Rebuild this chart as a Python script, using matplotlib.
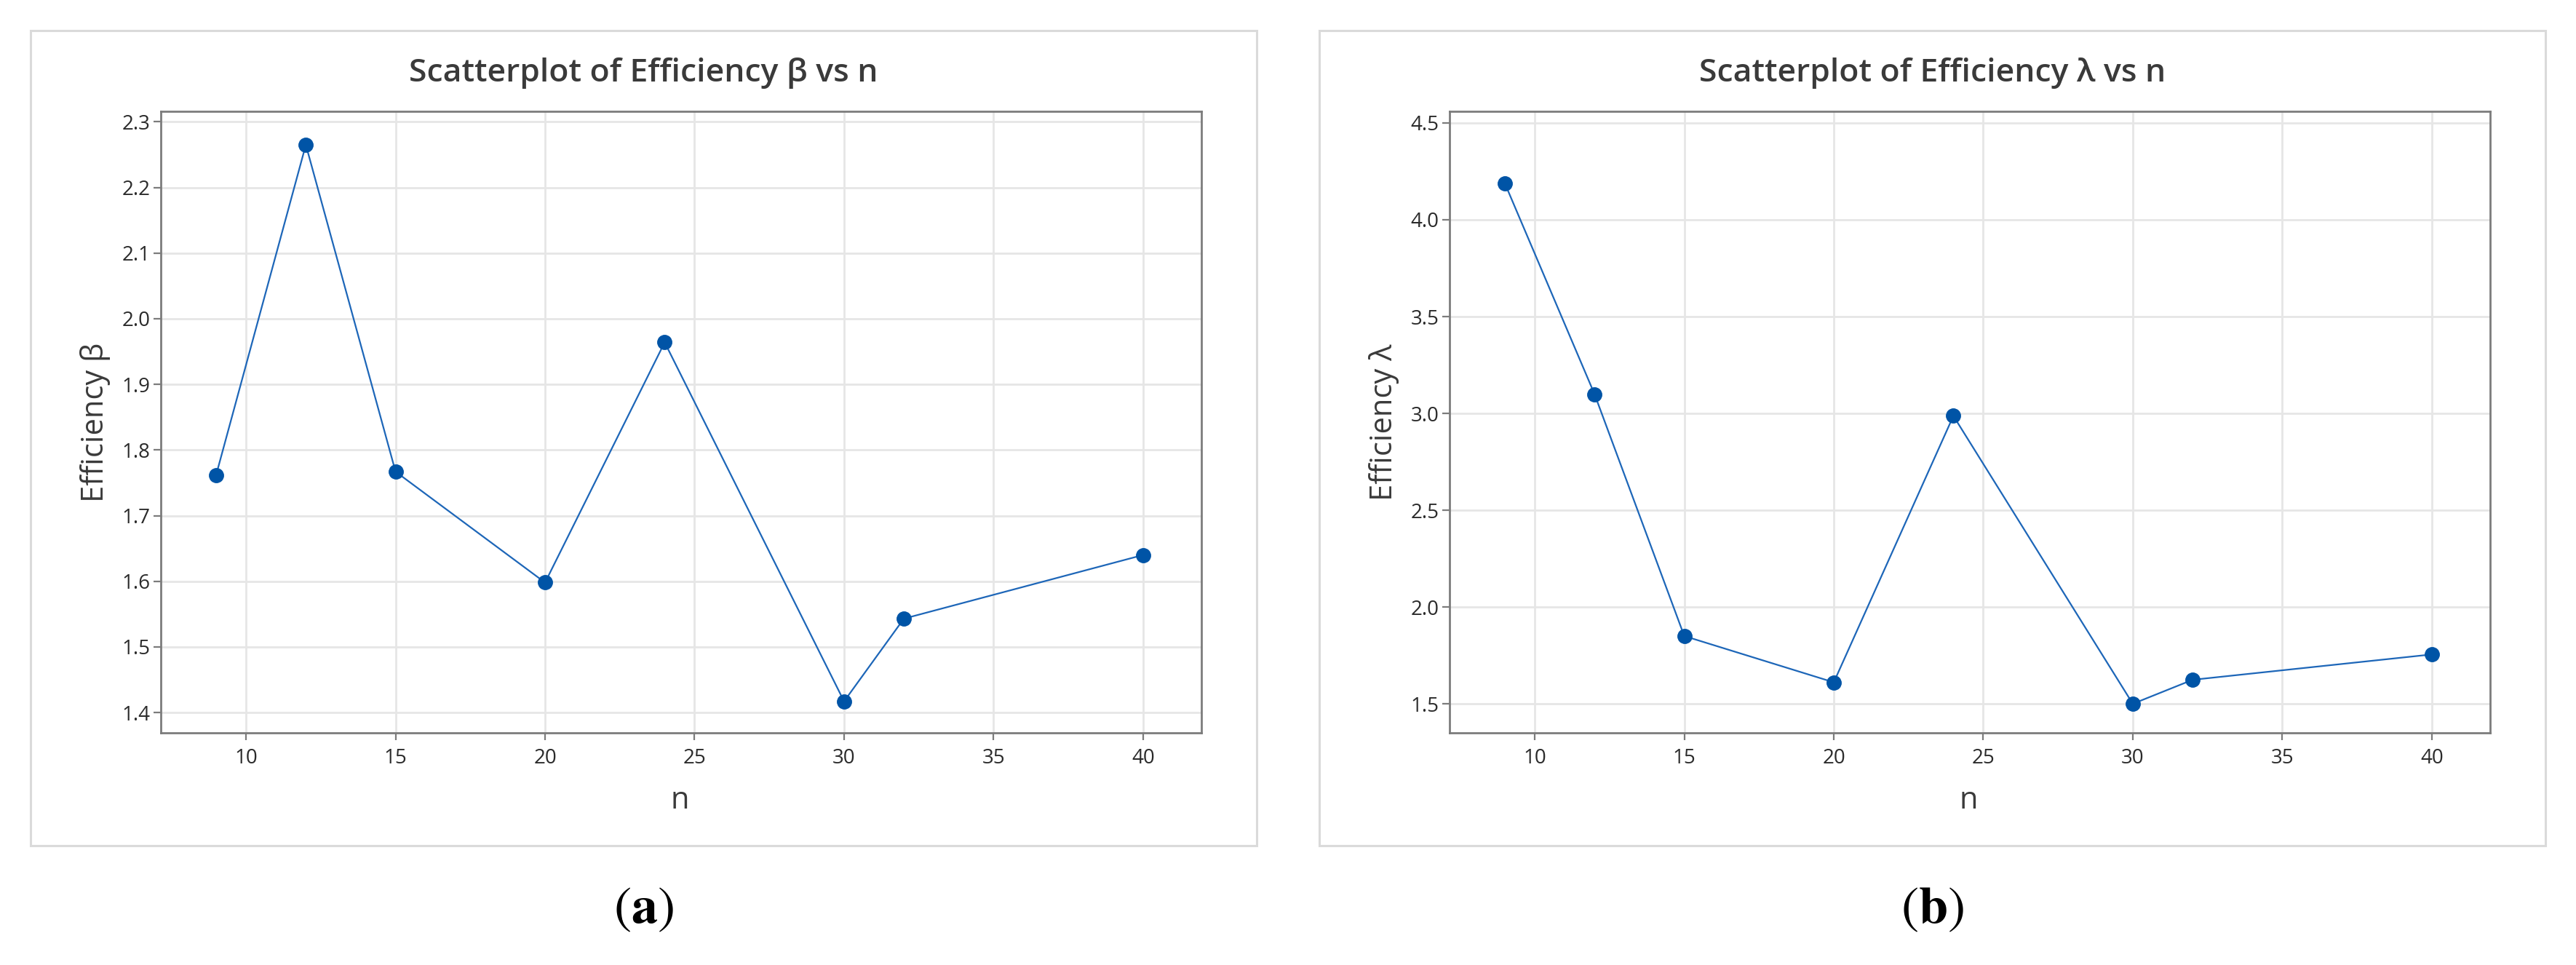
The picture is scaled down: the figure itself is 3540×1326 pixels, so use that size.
import numpy as np
import matplotlib
matplotlib.use("Agg")
import matplotlib.pyplot as plt
from matplotlib.patches import Rectangle


n_values = [9, 12, 15, 20, 24, 30, 32, 40]
beta_eff = [1.762, 2.265, 1.767, 1.598, 1.964, 1.417, 1.543, 1.640]
lambda_eff = [4.188, 3.099, 1.850, 1.611, 2.987, 1.500, 1.624, 1.755]

beta_ticks = [1.4, 1.5, 1.6, 1.7, 1.8, 1.9, 2.0, 2.1, 2.2, 2.3]
lambda_ticks = [1.5, 2.0, 2.5, 3.0, 3.5, 4.0, 4.5]
n_ticks = [10, 15, 20, 25, 30, 35, 40]

titles = ["Scatterplot of Efficiency \u03b2 vs n", "Scatterplot of Efficiency \u03bb vs n"]
ylabels = ["Efficiency \u03b2", "Efficiency \u03bb"]
panel_tags = ["a", "b"]


W, H = 3540, 1326
fig = plt.figure(figsize=(W / 100, H / 100), dpi=100)
plt.rcParams['font.family'] = ['Open Sans', 'DejaVu Sans']

lineColor = '#1d66b8'
markerColor = '#0054a6'
spineColor = '#7c7c7c'
gridColor = '#e6e6e6'
textColor = '#2b2b2b'


def px(x0, y0, x1, y1):
    # pixel box (top-left origin) -> figure fraction rect
    return [x0 / W, 1 - y1 / H, (x1 - x0) / W, (y1 - y0) / H]


panels = [
    (beta_eff, beta_ticks, (1.369, 2.316), "%.1f"),
    (lambda_eff, lambda_ticks, (1.35, 4.56), "%.1f"),
]

for k in range(2):
    off = k * 1771
    yData, yTicks, yLim, fmt = panels[k]

    # outer frame of the Minitab graph
    fig.patches.append(Rectangle((42 / W + off / W, 1 - 1162 / H), 1685 / W, 1120 / H,
                                 transform=fig.transFigure, fill=False,
                                 edgecolor='#dadada', linewidth=2.2, zorder=0))

    ax = fig.add_axes(px(221 + off, 153, 1651 + off, 1007))
    ax.plot(n_values, yData, color=lineColor, linewidth=1.6, zorder=3)
    ax.plot(n_values, yData, linestyle='none', marker='o', markersize=14,
            color=markerColor, zorder=4)

    ax.set_xlim(7.15, 41.95)
    ax.set_ylim(*yLim)
    ax.set_xticks(n_ticks)
    ax.set_yticks(yTicks)
    ax.set_yticklabels([fmt % v for v in yTicks])
    ax.grid(True, color=gridColor, linewidth=2.0, zorder=0)
    ax.set_axisbelow(True)

    for s in ax.spines.values():
        s.set_color(spineColor)
        s.set_linewidth(2.0)
    ax.tick_params(axis='both', direction='out', length=7, width=1.6, color=spineColor,
                   labelsize=20, labelcolor=textColor)
    ax.tick_params(axis='x', pad=8)
    ax.tick_params(axis='y', pad=3.5)

    cx = (42 + 1727) / 2 + off
    fig.text(cx / W, 1 - 100 / H, titles[k], ha='center', va='center',
             fontsize=32, fontweight='semibold', color='#3a3a3a')
    fig.text((131 + off) / W, 1 - 580 / H, ylabels[k], ha='center', va='center',
             rotation=90, fontsize=30, color='#3a3a3a')
    fig.text((934 + off) / W, 1 - 1100 / H, "n", ha='center', va='center',
             fontsize=30, color='#3a3a3a')

    # panel tag (a)/(b) in bold serif
    fig.text(cx / W, 1 - 1250 / H, r"$(\mathbf{" + panel_tags[k] + r"})$",
             ha='center', va='center', fontsize=52, math_fontfamily='stix',
             color='black')

fig.savefig("out.png", dpi=100)
